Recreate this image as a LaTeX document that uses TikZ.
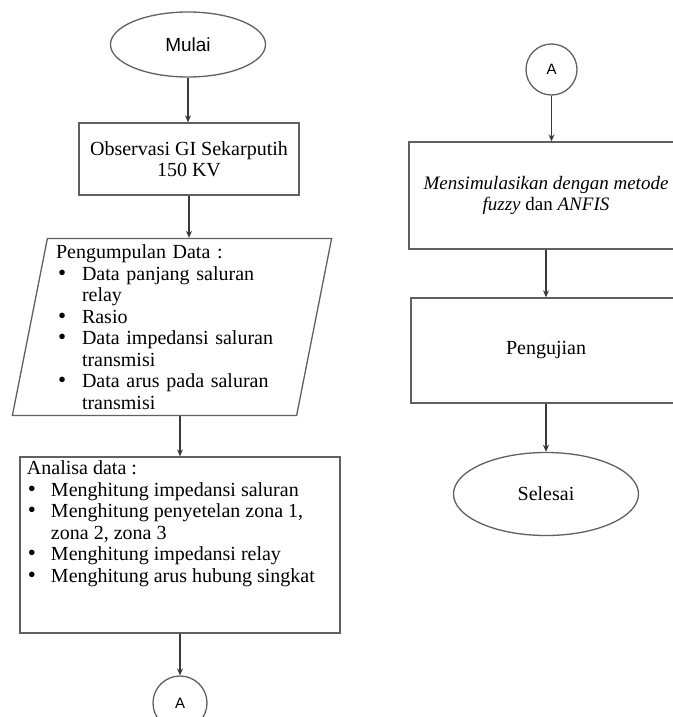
\documentclass[tikz,border=0pt]{standalone}
\usepackage{fontspec}
\setmainfont{Liberation Serif}
\newfontfamily\arialfont{Liberation Sans}
\usetikzlibrary{arrows.meta,positioning,shapes.geometric}
\definecolor{lineink}{HTML}{606060}
\definecolor{arrowink}{HTML}{3A3A3A}
\tikzset{
  terminal/.style  = {ellipse, draw=lineink, line width=1.3pt, inner sep=0pt, align=center},
  procbox/.style   = {rectangle, draw=lineink, line width=1.3pt, inner sep=0pt, align=center},
  iobox/.style     = {trapezium, trapezium left angle=78.8, trapezium right angle=101.2,
                      trapezium stretches=true, draw=lineink, line width=1.3pt, inner sep=0pt},
  connector/.style = {circle, draw=lineink, line width=1.3pt, inner sep=0pt,
                      font=\arialfont\fontsize{15}{17}\selectfont},
  flow/.style      = {-{Stealth[length=7pt,width=6pt]}, draw=arrowink, line width=1.1pt},
}
\newcommand{\bigdot}{{\fontsize{23}{21.5}\selectfont\textbullet}}
\newcommand{\bul}{\makebox[26pt][l]{\hspace{2pt}\bigdot}}
\newcommand{\bulb}{\makebox[24pt][l]{\hspace{1pt}\bigdot}}
\begin{document}
\begin{tikzpicture}[x=1pt,y=-1pt,font=\fontsize{20}{21.5}\selectfont]
    \useasboundingbox (0,0) rectangle (672,717);
    \node[terminal,minimum width=155pt,minimum height=65pt,font=\arialfont\fontsize{19}{21}\selectfont] (mulai) at (188,44.5) {Mulai};
    \node[procbox,minimum width=220pt,minimum height=72pt] (obs) at (189,159) {Observasi GI Sekarputih\\150 KV};
    \node[iobox,minimum width=320pt,minimum height=177pt,text width=232pt,align=left] (data) at (172,327)
      {Pengumpulan Data :\\
       \bul Data panjang saluran\\
       \hspace*{26pt}relay\\
       \bul Rasio\\
       \bul Data impedansi saluran\\
       \hspace*{26pt}transmisi\\
       \bul Data arus pada saluran\\
       \hspace*{26pt}transmisi};
    \node[procbox,minimum width=320pt,minimum height=176pt] (analisa) at (180,545)
      {\parbox[t][168pt][t]{306pt}{\raggedright
       Analisa data :\\
       \bulb Menghitung impedansi saluran\\
       \bulb Menghitung penyetelan zona 1,\\
       \hspace*{24pt}zona 2, zona 3\\
       \bulb Menghitung impedansi relay\\
       \bulb Menghitung arus hubung singkat}};
    \node[connector,minimum size=54pt] (ca) at (180,703) {A};
    \node[connector,minimum size=51pt] (cb) at (551.5,69.5) {A};
    \node[procbox,minimum width=274pt,minimum height=107pt,font=\fontsize{19}{21.5}\selectfont] (sim) at (546,195.5)
      {\textit{Mensimulasikan dengan metode}\\\textit{fuzzy} dan \textit{ANFIS}};
    \node[procbox,minimum width=270pt,minimum height=105pt] (uji) at (546,350.5) {Pengujian};
    \node[terminal,minimum width=185pt,minimum height=83pt] (selesai) at (546,494) {Selesai};
    \draw[flow] (mulai.south) -- (mulai.south |- obs.north);
    \draw[flow] (obs.south) -- (obs.south |- data.north);
    \draw[flow] (analisa.north |- data.south) -- (analisa.north);
    \draw[flow] (analisa.south) -- (ca.north);
    \draw[flow] (cb.south) -- (cb.south |- sim.north);
    \draw[flow] (sim.south) -- (sim.south |- uji.north);
    \draw[flow] (uji.south) -- (selesai.north);
  \end{tikzpicture}
\end{document}
